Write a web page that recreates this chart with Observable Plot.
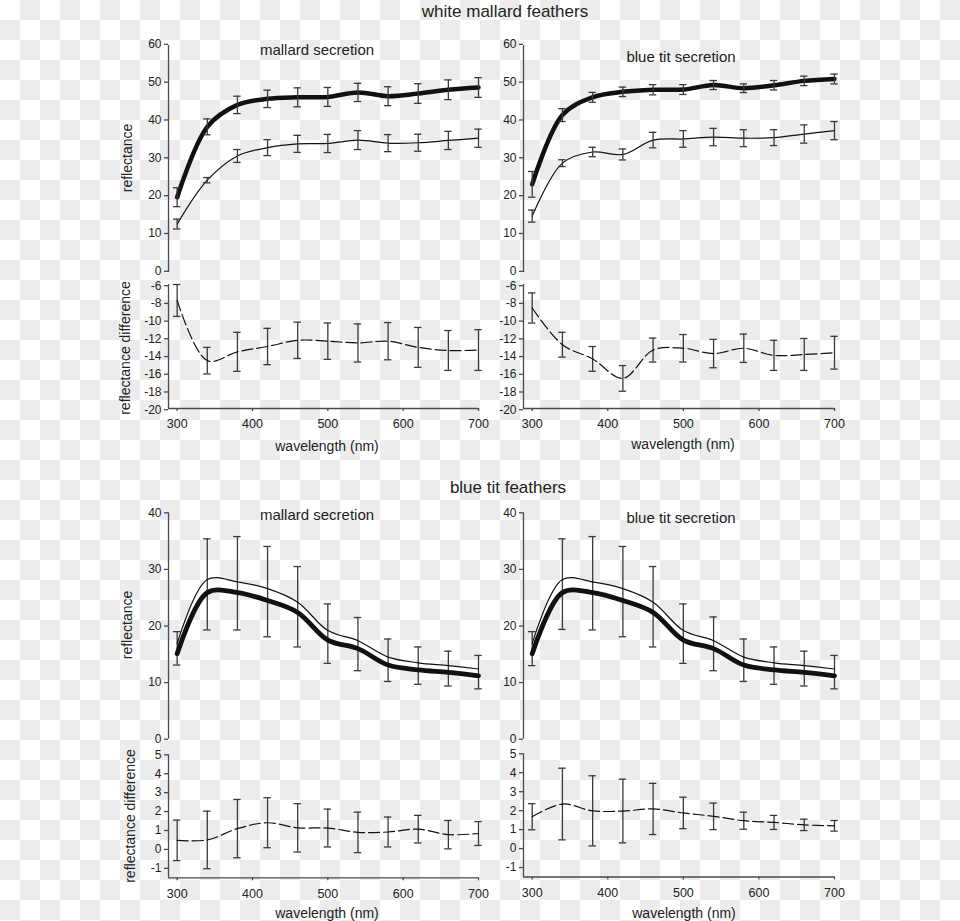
<!DOCTYPE html>
<html>
<head>
<meta charset="utf-8">
<script src="https://cdn.jsdelivr.net/npm/d3@7"></script>
<script src="https://cdn.jsdelivr.net/npm/@observablehq/plot@0.6"></script>
<style>
  html, body { margin: 0; padding: 0; }
  #root {
    position: relative; width: 960px; height: 921px; overflow: hidden;
    background: repeating-conic-gradient(#ececec 0 25%, #ffffff 0 50%) 0 0 / 40px 40px;
    font-family: "Liberation Sans", Arial, Helvetica, sans-serif; color: #222;
  }
  .t { position: absolute; white-space: nowrap; line-height: 1; transform: translate(-50%, -50%); }
  .r { position: absolute; white-space: nowrap; line-height: 1; transform: translate(-50%, -50%) rotate(-90deg); }
  #root svg { position: absolute; }
</style>
</head>
<body>
<div id="root">
  <div class="t" style="left:505px;top:11px;font-size:17px">white mallard feathers</div>
  <div class="t" style="left:508px;top:487px;font-size:17px">blue tit feathers</div>

  <div class="t" style="left:317px;top:49px;font-size:15px">mallard secretion</div>
  <div class="t" style="left:681px;top:56px;font-size:15px">blue tit secretion</div>
  <div class="t" style="left:317px;top:514px;font-size:15px">mallard secretion</div>
  <div class="t" style="left:681px;top:517px;font-size:15px">blue tit secretion</div>

  <div class="r" style="left:127px;top:158px;font-size:14px">reflectance</div>
  <div class="r" style="left:125px;top:348px;font-size:14px">reflectance difference</div>
  <div class="r" style="left:127px;top:625px;font-size:14px">reflectance</div>
  <div class="r" style="left:130px;top:816px;font-size:14px">reflectance difference</div>

  <div class="t" style="left:327px;top:446px;font-size:14px">wavelength (nm)</div>
  <div class="t" style="left:683px;top:444px;font-size:14px">wavelength (nm)</div>
  <div class="t" style="left:327px;top:913px;font-size:14px">wavelength (nm)</div>
  <div class="t" style="left:684px;top:913px;font-size:14px">wavelength (nm)</div>
</div>
<script>
// ---------------- data ----------------
const wavelengths = [300, 340, 380, 420, 460, 500, 540, 580, 620, 660, 700];
const xDomain = [288.5, 700];
const xTicks = [300, 400, 500, 600, 700];

const reflTicksTop = [0, 10, 20, 30, 40, 50, 60];
const reflDomainTop = [0, 60];
const diffTicksTop = [-20, -18, -16, -14, -12, -10, -8, -6];
const diffDomainTop = [-20, -6];
const reflTicksBottom = [0, 10, 20, 30, 40];
const reflDomainBottom = [0, 40];
const diffTicksBottom = [-1, 0, 1, 2, 3, 4, 5];
const diffDomainBottom = [-1.5, 5];

// white mallard feathers — mallard secretion
const wmMallardThick    = [19.9, 38.5, 44.3, 45.9, 46.3, 46.4, 47.6, 46.6, 47.3, 48.3, 48.9];
const wmMallardThickErr = [2.5, 2.1, 2.3, 2.3, 2.5, 2.5, 2.4, 2.5, 2.6, 2.6, 2.6];
const wmMallardThin     = [12.8, 24.4, 30.8, 33.0, 34.0, 34.1, 35.0, 34.2, 34.3, 34.9, 35.5];
const wmMallardThinErr  = [1.3, 0.7, 1.7, 2.1, 2.25, 2.4, 2.5, 2.25, 2.25, 2.4, 2.4];
const wmMallardDiff     = [-7.8, -14.6, -13.6, -13.0, -12.3, -12.4, -12.6, -12.4, -13.1, -13.45, -13.4];
const wmMallardDiffErr  = [1.8, 1.5, 2.2, 2.05, 2.05, 2.05, 2.15, 2.1, 2.25, 2.25, 2.3];

// white mallard feathers — blue tit secretion
const wmBluetitThick    = [23.3, 41.6, 46.3, 47.75, 48.3, 48.35, 49.55, 48.7, 49.5, 50.65, 51.15];
const wmBluetitThickErr = [3.4, 1.7, 1.3, 1.25, 1.35, 1.3, 1.2, 1.15, 1.25, 1.25, 1.3];
const wmBluetitThin     = [14.9, 28.9, 31.85, 31.2, 35.0, 35.3, 35.8, 35.5, 35.65, 36.6, 37.5];
const wmBluetitThinErr  = [1.6, 0.9, 1.25, 1.45, 2.05, 2.2, 2.3, 2.25, 2.1, 2.4, 2.4];
const wmBluetitDiff     = [-8.65, -12.8, -14.4, -16.6, -13.4, -13.2, -13.8, -13.2, -14.0, -13.9, -13.7];
const wmBluetitDiffErr  = [1.7, 1.4, 1.4, 1.45, 1.35, 1.55, 1.6, 1.6, 1.7, 1.8, 1.85];

// blue tit feathers — mallard secretion
const btMallardThick   = [15.1, 25.9, 25.9, 24.5, 22.4, 17.5, 16.0, 13.1, 12.25, 11.8, 11.2];
const btMallardThin    = [16.9, 28.2, 27.8, 26.6, 24.2, 19.2, 17.4, 14.5, 13.5, 13.0, 12.4];
const btMallardBarLow  = [13.1, 19.3, 19.3, 18.1, 16.3, 13.4, 12.1, 10.2, 9.7, 9.4, 8.9];
const btMallardBarHigh = [19.0, 35.4, 35.8, 34.05, 30.5, 23.9, 21.5, 17.7, 16.3, 15.55, 14.8];
const btMallardDiff    = [0.48, 0.5, 1.1, 1.41, 1.14, 1.13, 0.9, 0.92, 1.07, 0.78, 0.84];
const btMallardDiffErr = [1.07, 1.52, 1.54, 1.32, 1.28, 1.0, 1.07, 0.79, 0.73, 0.75, 0.63];

// blue tit feathers — blue tit secretion
const btBluetitThick   = [15.1, 25.9, 25.9, 24.5, 22.4, 17.5, 16.0, 13.1, 12.25, 11.8, 11.2];
const btBluetitThin    = [16.9, 28.2, 27.8, 26.6, 24.2, 19.2, 17.4, 14.5, 13.5, 13.0, 12.4];
const btBluetitBarLow  = [13.0, 19.4, 19.3, 18.1, 16.3, 13.4, 12.1, 10.2, 9.7, 9.4, 8.9];
const btBluetitBarHigh = [19.0, 35.4, 35.8, 34.05, 30.5, 23.9, 21.6, 17.7, 16.3, 15.55, 14.8];
const btBluetitDiff    = [1.68, 2.35, 1.99, 1.98, 2.09, 1.88, 1.70, 1.47, 1.38, 1.25, 1.2];
const btBluetitDiffErr = [0.69, 1.89, 1.85, 1.68, 1.35, 0.83, 0.70, 0.45, 0.37, 0.3, 0.28];

// ---------------- helpers ----------------
const FONT = '"Liberation Sans", Arial, Helvetica, sans-serif';
const AXIS = "#4a4a4a";
const BAR = "#3a3a3a";
const INK = "#111";
const root = document.getElementById("root");

const meanErr = (m, e) => wavelengths.map((w, i) => ({w, m: m[i], lo: m[i] - e[i], hi: m[i] + e[i]}));
const lowHigh = (lo, hi) => wavelengths.map((w, i) => ({w, lo: lo[i], hi: hi[i]}));
const band = (a, b) => wavelengths.map((w, i) => ({w, a: a[i], b: b[i]}));

function errorBars(data) {
  const o = {stroke: BAR, strokeWidth: 1.3};
  return [
    Plot.ruleX(data, {x: "w", y1: "lo", y2: "hi", ...o}),
    Plot.ruleY(data, {y: "lo", x1: "w", x2: "w", insetLeft: -3.7, insetRight: -3.7, ...o}),
    Plot.ruleY(data, {y: "hi", x1: "w", x2: "w", insetLeft: -3.7, insetRight: -3.7, ...o})
  ];
}

function place(svg, left, top) {
  svg.style.left = left + "px";
  svg.style.top = top + "px";
  root.appendChild(svg);
}

const cols = {
  left:  {left: 0,   width: 520, ml: 168, mr: 42},
  right: {left: 480, width: 400, ml: 43,  mr: 46}
};

function reflPanel(col, top, height, mt, mb, yDomain, yTicks, labelShift, marks) {
  const c = cols[col];
  const svg = Plot.plot({
    width: c.width, height, marginLeft: c.ml, marginRight: c.mr, marginTop: mt, marginBottom: mb,
    style: {background: "transparent", fontFamily: FONT, fontSize: "12px", color: "#222", overflow: "visible"},
    x: {domain: xDomain, axis: null},
    y: {domain: yDomain},
    marks: [
      Plot.ruleX([xDomain[0]], {stroke: AXIS, strokeWidth: 1.3}),
      Plot.axisY(yTicks, {tickSize: 4, tickPadding: 3, tickFormat: d => String(d), label: null, stroke: AXIS, strokeWidth: 1.3, dy: labelShift}),
      ...marks
    ]
  });
  place(svg, c.left, top);
}

function diffPanel(col, top, height, mt, mb, yDomain, yTicks, labelShift, data) {
  const c = cols[col];
  const svg = Plot.plot({
    width: c.width, height, marginLeft: c.ml, marginRight: c.mr, marginTop: mt, marginBottom: mb,
    style: {background: "transparent", fontFamily: FONT, fontSize: "12px", color: "#222", overflow: "visible"},
    x: {domain: xDomain},
    y: {domain: yDomain},
    marks: [
      Plot.ruleX([xDomain[0]], {stroke: AXIS, strokeWidth: 1.3}),
      Plot.ruleY([yDomain[0]], {stroke: AXIS, strokeWidth: 1.3}),
      Plot.axisY(yTicks, {tickSize: 4, tickPadding: 3, tickFormat: d => String(d), label: null, stroke: AXIS, strokeWidth: 1.3, dy: labelShift}),
      Plot.axisX(xTicks, {tickSize: 3, tickPadding: 8, tickFormat: d => String(d), label: null, stroke: AXIS, strokeWidth: 1.3, fontSize: 12.5}),
      ...errorBars(data),
      Plot.line(data, {x: "w", y: "m", stroke: INK, strokeWidth: 1.2, strokeDasharray: "11,4", curve: "catmull-rom"})
    ]
  });
  place(svg, c.left, top);
}

function topRefl(thick, thickErr, thin, thinErr) {
  const a = meanErr(thick, thickErr), b = meanErr(thin, thinErr);
  return [
    Plot.line(a, {x: "w", y: "m", stroke: INK, strokeWidth: 4.5, curve: "catmull-rom"}),
    Plot.line(b, {x: "w", y: "m", stroke: INK, strokeWidth: 1.2, curve: "catmull-rom"}),
    ...errorBars(a),
    ...errorBars(b)
  ];
}

function bottomRefl(thick, thin, lo, hi) {
  const bd = band(thick, thin);
  return [
    Plot.areaY(bd, {x: "w", y1: "a", y2: "b", fill: "white", curve: "catmull-rom"}),
    ...errorBars(lowHigh(lo, hi)),
    Plot.line(bd, {x: "w", y: "b", stroke: INK, strokeWidth: 1.2, curve: "catmull-rom"}),
    Plot.line(bd, {x: "w", y: "a", stroke: INK, strokeWidth: 4.8, curve: "catmull-rom"})
  ];
}

// ---------------- white mallard feathers ----------------
reflPanel("left", 30, 250, 15, 8, reflDomainTop, reflTicksTop, -1.2,
  topRefl(wmMallardThick, wmMallardThickErr, wmMallardThin, wmMallardThinErr));
reflPanel("right", 30, 250, 15, 8, reflDomainTop, reflTicksTop, -1.2,
  topRefl(wmBluetitThick, wmBluetitThickErr, wmBluetitThin, wmBluetitThinErr));
diffPanel("left", 276, 185, 8, 53, diffDomainTop, diffTicksTop, 1.2, meanErr(wmMallardDiff, wmMallardDiffErr));
diffPanel("right", 276, 185, 8, 53, diffDomainTop, diffTicksTop, 1.2, meanErr(wmBluetitDiff, wmBluetitDiffErr));

// ---------------- blue tit feathers ----------------
reflPanel("left", 500, 250, 12.3, 11.3, reflDomainBottom, reflTicksBottom, 0,
  bottomRefl(btMallardThick, btMallardThin, btMallardBarLow, btMallardBarHigh));
reflPanel("right", 500, 250, 12.3, 11.3, reflDomainBottom, reflTicksBottom, 0,
  bottomRefl(btBluetitThick, btBluetitThin, btBluetitBarLow, btBluetitBarHigh));
diffPanel("left", 745, 176, 9.3, 43.7, diffDomainBottom, diffTicksBottom, 0, meanErr(btMallardDiff, btMallardDiffErr));
diffPanel("right", 745, 176, 8.3, 44.5, diffDomainBottom, diffTicksBottom, 0, meanErr(btBluetitDiff, btBluetitDiffErr));
</script>
</body>
</html>
